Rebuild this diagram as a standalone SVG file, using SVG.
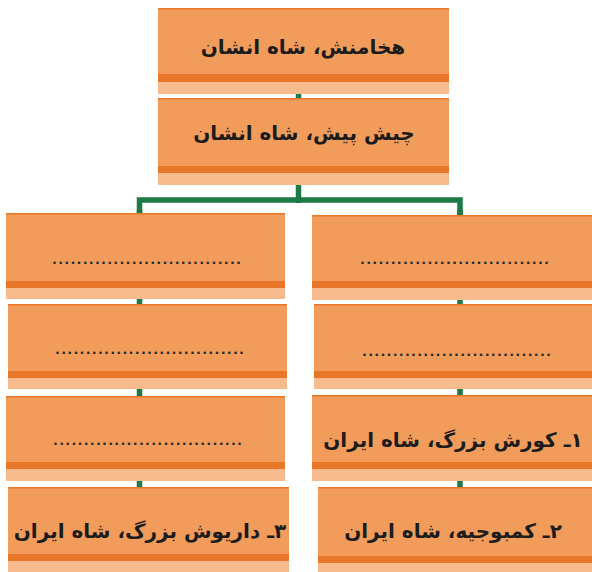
<svg xmlns="http://www.w3.org/2000/svg" width="592" height="572" viewBox="0 0 592 572">
<style>
.m{fill:#F29C5C}
.d{fill:#E8772A}
.l{fill:#F7BA8C}
.t{fill:#E8772A}
.tx{font-family:"DejaVu Sans",sans-serif;font-weight:bold;font-size:20px;fill:#1c1c1c;text-anchor:middle}
.dots{font-family:"DejaVu Sans",sans-serif;font-weight:bold;font-size:13px;fill:#2a2a2a}
.c{stroke:#1C7A46;stroke-width:5.5;fill:none}
</style>
<rect width="592" height="572" fill="#ffffff"/>
<g id="connectors">
<line class="c" x1="298.5" y1="90" x2="298.5" y2="203"/>
<polyline class="c" points="139.5,215 139.5,200 460,200 460,217"/>
<line class="c" x1="139.5" y1="210" x2="139.5" y2="490"/>
<line class="c" x1="460" y1="210" x2="460" y2="490"/>
</g>
<g id="n-hakhamanesh">
<rect class="m" x="158" y="8" width="291" height="66"/>
<rect class="t" x="158" y="8" width="291" height="1.5"/>
<rect class="d" x="158" y="74" width="291" height="8"/>
<rect class="l" x="158" y="82" width="291" height="12"/>
<text class="tx" x="303" y="54" direction="rtl">هخامنش، شاه انشان</text>
</g>
<g id="n-chishpish">
<rect class="m" x="158" y="98" width="291" height="68"/>
<rect class="t" x="158" y="98" width="291" height="1.5"/>
<rect class="d" x="158" y="166" width="291" height="7"/>
<rect class="l" x="158" y="173" width="291" height="12"/>
<text class="tx" x="304" y="140" direction="rtl">چیش پیش، شاه انشان</text>
</g>
<g id="n-left-1">
<rect class="m" x="6" y="213" width="279" height="68"/>
<rect class="t" x="6" y="213" width="279" height="1.5"/>
<rect class="d" x="6" y="281" width="279" height="7"/>
<rect class="l" x="6" y="288" width="279" height="11"/>
<text class="dots" x="52" y="264" textLength="189" lengthAdjust="spacing">...............................</text>
</g>
<g id="n-left-2">
<rect class="m" x="8" y="304" width="279" height="67"/>
<rect class="t" x="8" y="304" width="279" height="1.5"/>
<rect class="d" x="8" y="371" width="279" height="7"/>
<rect class="l" x="8" y="378" width="279" height="11"/>
<text class="dots" x="55" y="354" textLength="189" lengthAdjust="spacing">...............................</text>
</g>
<g id="n-left-3">
<rect class="m" x="6" y="396" width="279" height="66"/>
<rect class="t" x="6" y="396" width="279" height="1.5"/>
<rect class="d" x="6" y="462" width="279" height="7"/>
<rect class="l" x="6" y="469" width="279" height="12"/>
<text class="dots" x="53" y="445" textLength="189" lengthAdjust="spacing">...............................</text>
</g>
<g id="n-dariush">
<rect class="m" x="8" y="487" width="281" height="67"/>
<rect class="t" x="8" y="487" width="281" height="1.5"/>
<rect class="d" x="8" y="554" width="281" height="7"/>
<rect class="l" x="8" y="561" width="281" height="11"/>
<text class="tx" x="150" y="538" direction="rtl">۳ـ داریوش بزرگ، شاه ایران</text>
</g>
<g id="n-right-1">
<rect class="m" x="312" y="215" width="280" height="66"/>
<rect class="t" x="312" y="215" width="280" height="1.5"/>
<rect class="d" x="312" y="281" width="280" height="7"/>
<rect class="l" x="312" y="288" width="280" height="12"/>
<text class="dots" x="360" y="264" textLength="189" lengthAdjust="spacing">...............................</text>
</g>
<g id="n-right-2">
<rect class="m" x="314" y="304" width="278" height="67"/>
<rect class="t" x="314" y="304" width="278" height="1.5"/>
<rect class="d" x="314" y="371" width="278" height="7"/>
<rect class="l" x="314" y="378" width="278" height="11"/>
<text class="dots" x="362" y="356" textLength="189" lengthAdjust="spacing">...............................</text>
</g>
<g id="n-kourosh">
<rect class="m" x="312" y="395" width="280" height="67"/>
<rect class="t" x="312" y="395" width="280" height="1.5"/>
<rect class="d" x="312" y="462" width="280" height="7"/>
<rect class="l" x="312" y="469" width="280" height="12"/>
<text class="tx" x="453" y="447" direction="rtl">۱ـ کورش بزرگ، شاه ایران</text>
</g>
<g id="n-kambujiye">
<rect class="m" x="318" y="487" width="274" height="69"/>
<rect class="t" x="318" y="487" width="274" height="1.5"/>
<rect class="d" x="318" y="556" width="274" height="7"/>
<rect class="l" x="318" y="563" width="274" height="9"/>
<text class="tx" x="453" y="538" direction="rtl">۲ـ کمبوجیه، شاه ایران</text>
</g>
</svg>
